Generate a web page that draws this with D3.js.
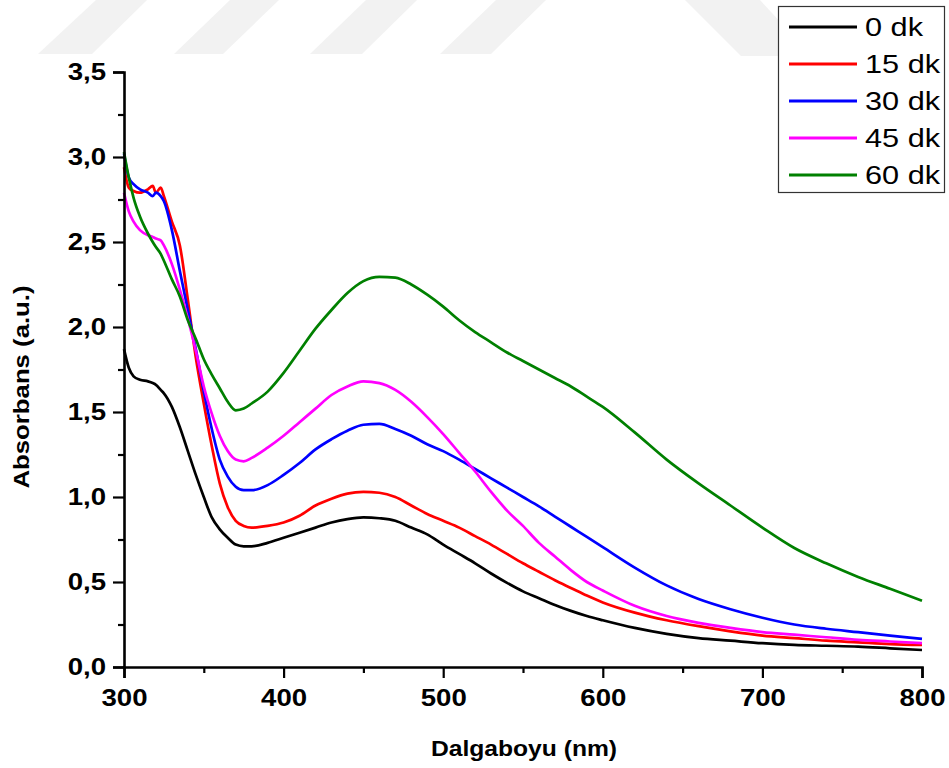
<!DOCTYPE html>
<html>
<head>
<meta charset="utf-8">
<script src="https://cdn.jsdelivr.net/npm/d3@7"></script>
<style>
  html, body { margin: 0; padding: 0; background: #fff; }
  svg { display: block; }
  .tick-label { font-family: "Liberation Sans", Arial, sans-serif; font-weight: bold; font-size: 23px; fill: #000; }
  .axis-title { font-family: "Liberation Sans", Arial, sans-serif; font-weight: bold; font-size: 22px; fill: #000; }
  .legend-text { font-family: "Liberation Sans", Arial, sans-serif; font-size: 26px; fill: #000; }
</style>
</head>
<body>
<svg id="chart" width="949" height="768"></svg>
<script>
// ---- data ----
const wavelengths = [300,303,306,310,315,318,320,323,325,330,335,340,345,350,355,360,365,370,375,380,390,400,410,420,430,440,450,460,470,480,490,500,510,520,530,540,550,560,570,580,590,600,620,640,660,680,700,720,740,760,780,800];

const seriesNames = ["0 dk", "15 dk", "30 dk", "45 dk", "60 dk"];
const seriesColors = ["#000000", "#ff0000", "#0000ff", "#ff00ff", "#008000"];

const abs0 = [1.87,1.76,1.71,1.69,1.68,1.67,1.66,1.63,1.61,1.53,1.41,1.27,1.13,1.00,0.88,0.81,0.76,0.72,0.71,0.71,0.73,0.76,0.79,0.82,0.85,0.87,0.88,0.875,0.86,0.82,0.78,0.72,0.665,0.61,0.55,0.495,0.445,0.405,0.365,0.33,0.30,0.275,0.23,0.195,0.17,0.155,0.14,0.13,0.125,0.12,0.11,0.10];
const abs15 = [2.94,2.82,2.80,2.79,2.81,2.83,2.79,2.82,2.77,2.62,2.48,2.16,1.82,1.55,1.30,1.08,0.94,0.86,0.83,0.82,0.83,0.85,0.89,0.95,0.99,1.02,1.03,1.025,1.00,0.95,0.90,0.86,0.82,0.77,0.72,0.665,0.61,0.56,0.51,0.465,0.42,0.38,0.32,0.275,0.24,0.21,0.185,0.17,0.155,0.145,0.135,0.13];
const abs30 = [3.02,2.88,2.84,2.81,2.79,2.77,2.79,2.77,2.74,2.57,2.33,2.10,1.87,1.62,1.40,1.22,1.12,1.06,1.04,1.04,1.07,1.13,1.20,1.28,1.34,1.39,1.425,1.43,1.40,1.36,1.31,1.27,1.22,1.165,1.11,1.055,1.00,0.945,0.885,0.825,0.765,0.705,0.585,0.48,0.40,0.34,0.29,0.25,0.225,0.205,0.185,0.165];
const abs45 = [2.79,2.68,2.62,2.57,2.54,2.53,2.52,2.51,2.48,2.37,2.22,2.05,1.86,1.65,1.49,1.36,1.27,1.22,1.21,1.23,1.29,1.36,1.44,1.52,1.60,1.65,1.68,1.67,1.63,1.56,1.47,1.37,1.26,1.15,1.03,0.92,0.83,0.73,0.65,0.57,0.50,0.45,0.36,0.30,0.26,0.23,0.205,0.19,0.175,0.16,0.15,0.14];
const abs60 = [3.03,2.88,2.76,2.65,2.55,2.50,2.47,2.43,2.39,2.28,2.18,2.04,1.93,1.81,1.72,1.64,1.56,1.51,1.52,1.55,1.62,1.73,1.86,1.99,2.10,2.20,2.27,2.295,2.29,2.25,2.19,2.12,2.04,1.97,1.91,1.85,1.80,1.75,1.70,1.65,1.59,1.53,1.38,1.22,1.08,0.95,0.82,0.70,0.61,0.53,0.46,0.39];

const seriesValues = [abs0, abs15, abs30, abs45, abs60];

const xTicks = [300, 400, 500, 600, 700, 800];
const xMinorTicks = [350, 450, 550, 650, 750];
const yTicks = [0, 0.5, 1.0, 1.5, 2.0, 2.5, 3.0, 3.5];
const yMinorTicks = [0.25, 0.75, 1.25, 1.75, 2.25, 2.75, 3.25];
const xTitle = "Dalgaboyu (nm)";
const yTitle = "Absorbans (a.u.)";

// ---- drawing ----
const svg = d3.select("#chart");

// faint background watermark shapes
const wm = svg.append("g").attr("fill", "#f2f2f2");
[[38,54,92,147,96],[174,54,223,279,230],[310,54,362,417,366],[440,54,491,546,496]].forEach(s => {
  wm.append("path").attr("d", `M${s[0]},${s[1]}L${s[2]},${s[1]}L${s[3]},0L${s[4]},0Z`);
});
wm.append("path").attr("d", "M685,0L760,0L812,56L741,56Z");

const x = d3.scaleLinear().domain([300, 800]).range([124, 922]);
const y = d3.scaleLinear().domain([0, 3.5]).range([667, 72]);

const fmt = d => d3.format(".1f")(d).replace(".", ",");

// horizontal stretch of text to match the wider type of the reference
function stretch(sel, k) {
  sel.each(function() {
    const w = this.getComputedTextLength();
    d3.select(this).attr("textLength", w * k).attr("lengthAdjust", "spacingAndGlyphs");
  });
}

// lines
const line = d3.line()
  .x((d, i) => x(wavelengths[i]))
  .y(d => y(d))
  .curve(d3.curveMonotoneX);

svg.append("g").selectAll("path")
  .data(seriesValues)
  .join("path")
  .attr("d", d => line(d))
  .attr("fill", "none")
  .attr("stroke", (d, i) => seriesColors[i])
  .attr("stroke-width", 2.7)
  .attr("stroke-linejoin", "round");

// axes
const xAxis = d3.axisBottom(x).tickValues(xTicks).tickSize(11).tickPadding(8).tickFormat(d3.format("d"));
const yAxis = d3.axisLeft(y).tickValues(yTicks).tickSize(11).tickPadding(7).tickFormat(fmt);

const gx = svg.append("g").attr("transform", "translate(0,667)").call(xAxis);
gx.append("g").call(d3.axisBottom(x).tickValues(xMinorTicks).tickSize(6).tickFormat(""));
const gy = svg.append("g").attr("transform", "translate(124,0)").call(yAxis);
gy.append("g").call(d3.axisLeft(y).tickValues(yMinorTicks).tickSize(6).tickFormat(""));

[gx, gy].forEach(g => {
  g.selectAll(".domain").attr("stroke", "#000").attr("stroke-width", 2.6);
  g.selectAll(".tick line").attr("stroke", "#000").attr("stroke-width", 2.2);
  g.selectAll("g .domain").filter(function(){ return this.parentNode !== g.node(); }).remove();
  g.selectAll(".tick text").attr("class", "tick-label").attr("font-size", null).attr("font-family", null);
});
gx.selectAll(".tick-label").attr("dy", "0.85em");
stretch(gx.selectAll(".tick-label"), 1.2);
stretch(gy.selectAll(".tick-label"), 1.2);

// axis titles
const xt = svg.append("text").attr("class", "axis-title")
  .attr("x", 524).attr("y", 756).attr("text-anchor", "middle").text(xTitle);
const yt = svg.append("text").attr("class", "axis-title")
  .attr("transform", "translate(29,387) rotate(-90)")
  .attr("text-anchor", "middle").text(yTitle);
stretch(xt, 1.12);
stretch(yt, 1.17);

// legend
const lg = svg.append("g");
lg.append("rect").attr("x", 778.5).attr("y", 6.5).attr("width", 166).attr("height", 186)
  .attr("fill", "#fff").attr("stroke", "#333").attr("stroke-width", 1.2);
seriesNames.forEach((name, i) => {
  const cy = 27 + i * 37;
  lg.append("line").attr("x1", 789).attr("x2", 857).attr("y1", cy).attr("y2", cy)
    .attr("stroke", seriesColors[i]).attr("stroke-width", 3);
  const t = lg.append("text").attr("class", "legend-text").attr("x", 865).attr("y", cy)
    .attr("dy", "0.36em").text(name);
  stretch(t, 1.18);
});
</script>
</body>
</html>
